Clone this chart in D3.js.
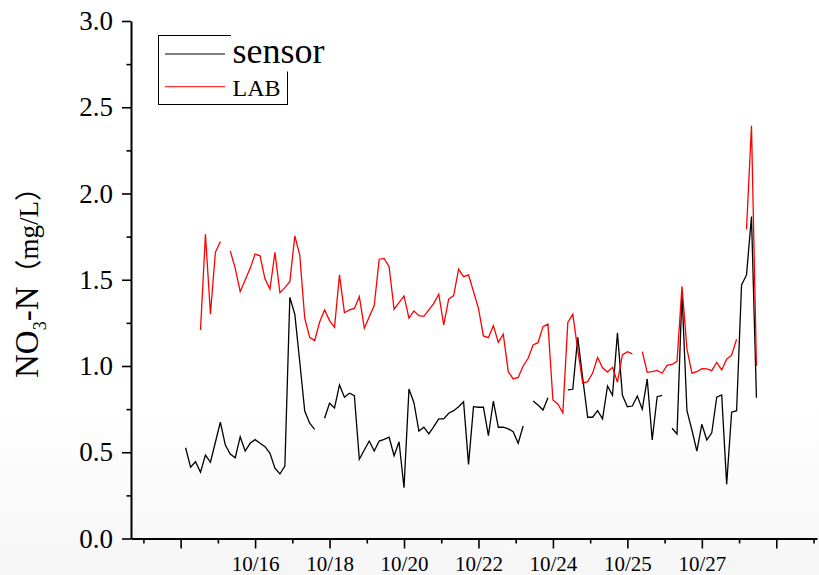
<!DOCTYPE html>
<html>
<head>
<meta charset="utf-8">
<script src="https://cdn.jsdelivr.net/npm/d3@7"></script>
<style>
  body { margin: 0; background: #fff; }
  svg { display: block; }
  text { font-family: "Liberation Serif", "Times New Roman", serif; fill: #000; }
</style>
</head>
<body>
<svg id="chart" width="819" height="575"></svg>
<script>
// Sample index of the first value in each series (one sample per x unit)
const sensorStart = 11;
const labStart = 14;

// NO3-N from the in-situ sensor (mg/L); null = no reading
const sensor = [
  0.526, 0.413, 0.445, 0.384, 0.484, 0.442, 0.558, 0.674, 0.542, 0.490,
  0.468, 0.590, 0.507, 0.552, 0.573, 0.552, 0.532, 0.494, 0.407, 0.374,
  0.420, 1.398, 1.300, 1.023, 0.739, 0.668, 0.633, null, 0.697, 0.784,
  0.757, 0.890, 0.819, 0.842, 0.828, 0.459, 0.513, 0.565, 0.507, 0.565,
  0.575, 0.587, 0.480, 0.561, 0.294, 0.867, 0.787, 0.623, 0.645, 0.606,
  0.648, 0.693, 0.693, 0.726, 0.741, 0.764, 0.793, 0.430, 0.764, 0.761,
  0.761, 0.596, 0.797, 0.645, 0.645, 0.635, 0.619, 0.552, 0.652, null,
  0.797, 0.774, 0.745, 0.816, null, null, null, 0.861, 0.865, 1.166,
  0.930, 0.703, 0.703, 0.741, 0.693, 0.884, 0.830, 1.193, 0.830, 0.764,
  0.768, 0.826, 0.749, 0.925, 0.571, 0.822, 0.830, null, 0.639, 0.606,
  1.421, 0.741, 0.629, 0.507, 0.662, 0.571, 0.613, 0.819, 0.832, 0.314,
  0.732, 0.741, 1.470, 1.528, 1.866, 0.816
];

// NO3-N from laboratory analysis (mg/L); null = no sample
const lab = [
  1.209, 1.763, 1.301, 1.659, 1.721, null, 1.667, 1.566, 1.431, 1.499,
  1.566, 1.649, 1.639, 1.504, 1.446, 1.659, 1.425, 1.454, 1.489, 1.754,
  1.643, 1.277, 1.166, 1.147, 1.255, 1.325, 1.263, 1.224, 1.528, 1.309,
  1.325, 1.334, 1.402, 1.219, 1.286, 1.350, 1.619, 1.624, 1.576, 1.329,
  1.367, 1.406, 1.277, 1.319, 1.292, 1.288, 1.325, 1.363, 1.416, 1.238,
  1.388, 1.408, 1.561, 1.518, 1.528, 1.431, 1.334, 1.174, 1.164, 1.234,
  1.137, 1.184, 0.967, 0.925, 0.934, 1.000, 1.045, 1.122, 1.135, 1.228,
  1.243, 0.803, 0.778, 0.729, 1.252, 1.300, 1.093, 0.901, 0.909, 0.959,
  1.049, 0.990, 0.965, 0.992, 0.906, 1.064, 1.083, 1.070, null, 1.083,
  0.963, 0.967, 0.974, 0.958, 1.004, 1.009, 1.027, 1.462, 1.099, 0.958,
  0.967, 0.984, 0.983, 0.973, 1.021, 0.977, 1.039, 1.063, 1.155, null,
  1.792, 2.393, 1.000
];

// Date axis: major ticks every 15 samples
const xMajorTicks = [10, 25, 40, 55, 70, 85, 100, 115, 130];
const xTickLabels = ["", "10/16", "10/18", "10/20", "10/22", "10/24", "10/25", "10/27", ""];
const xMinorTicks = [2.5, 17.5, 32.5, 47.5, 62.5, 77.5, 92.5, 107.5, 122.5, 137.5];
const yMajorTicks = [0, 0.5, 1.0, 1.5, 2.0, 2.5, 3.0];
const yMinorTicks = [0.25, 0.75, 1.25, 1.75, 2.25, 2.75];

const svg = d3.select("#chart");
const W = 819, H = 575;

// faint shading toward the bottom of the page
const defs = svg.append("defs");
const grad = defs.append("linearGradient").attr("id", "bg").attr("x1", 0).attr("y1", 0).attr("x2", 0).attr("y2", 1);
grad.append("stop").attr("offset", "0.7").attr("stop-color", "#ffffff");
grad.append("stop").attr("offset", "1").attr("stop-color", "#f6f6f6");
svg.append("rect").attr("width", W).attr("height", H).attr("fill", "url(#bg)");

const x = d3.scaleLinear().domain([0, 138.2]).range([131, 817]);
const y = d3.scaleLinear().domain([0, 3]).range([538.5, 21]);

const toPoints = (arr, start) => arr.map((v, i) => ({ i: start + i, v }));

const line = d3.line()
  .defined(d => d.v !== null)
  .x(d => x(d.i))
  .y(d => y(d.v));

// series
svg.append("path")
  .datum(toPoints(sensor, sensorStart))
  .attr("fill", "none")
  .attr("stroke", "#000")
  .attr("stroke-width", 1.3)
  .attr("d", line);

svg.append("path")
  .datum(toPoints(lab, labStart))
  .attr("fill", "none")
  .attr("stroke", "#ff0000")
  .attr("stroke-width", 1.3)
  .attr("d", line);

// y axis
const yAxis = svg.append("g").attr("transform", "translate(131,0)")
  .call(d3.axisLeft(y).tickValues(yMajorTicks).tickFormat(d3.format(".1f"))
    .tickSize(9).tickSizeOuter(0).tickPadding(9));
yAxis.select(".domain").attr("stroke-width", 2);
yAxis.selectAll(".tick line").attr("stroke-width", 1.6);
yAxis.selectAll(".tick text").attr("font-size", 27).attr("font-family", null);

const yMinor = svg.append("g").attr("transform", "translate(131,0)")
  .call(d3.axisLeft(y).tickValues(yMinorTicks).tickFormat("").tickSize(4.5).tickSizeOuter(0));
yMinor.select(".domain").remove();
yMinor.selectAll(".tick line").attr("stroke-width", 1.6);

// x axis
const xAxis = svg.append("g").attr("transform", "translate(0,538.5)")
  .call(d3.axisBottom(x).tickValues(xMajorTicks)
    .tickFormat((d, i) => xTickLabels[i])
    .tickSize(10).tickSizeOuter(0).tickPadding(7.5));
xAxis.select(".domain").attr("stroke-width", 2);
xAxis.selectAll(".tick line").attr("stroke-width", 1.6);
xAxis.selectAll(".tick text").attr("font-size", 21).attr("font-family", null);

const xMinor = svg.append("g").attr("transform", "translate(0,538.5)")
  .call(d3.axisBottom(x).tickValues(xMinorTicks).tickFormat("").tickSize(5).tickSizeOuter(0));
xMinor.select(".domain").remove();
xMinor.selectAll(".tick line").attr("stroke-width", 1.6);

// y axis title
const yTitle = svg.append("text")
  .attr("transform", "translate(38,276) rotate(-90)")
  .attr("text-anchor", "middle");
yTitle.append("tspan").attr("font-size", 33).text("NO");
yTitle.append("tspan").attr("font-size", 18).attr("dy", 8).text("3");
yTitle.append("tspan").attr("font-size", 33).attr("dy", -8).text("-N");
yTitle.append("tspan").attr("font-size", 27).attr("font-family", "'Noto Sans CJK SC', 'Liberation Serif', serif").text("（");
yTitle.append("tspan").attr("font-size", 27).text("mg/L");
yTitle.append("tspan").attr("font-size", 27).attr("font-family", "'Noto Sans CJK SC', 'Liberation Serif', serif").text("）");

// legend
const legend = svg.append("g");
legend.append("rect")
  .attr("x", 158.5).attr("y", 35.5).attr("width", 129).attr("height", 69)
  .attr("fill", "none").attr("stroke", "#000").attr("stroke-width", 1);
legend.append("rect")
  .attr("x", 231).attr("y", 33).attr("width", 100).attr("height", 38.5)
  .attr("fill", "#fff");
const legendItems = [
  { name: "sensor", color: "#000", size: 36, ly: 54, ty: 62.7 },
  { name: "LAB", color: "#ff0000", size: 24, ly: 86.7, ty: 95.7 }
];
legendItems.forEach(it => {
  legend.append("line")
    .attr("x1", 165).attr("x2", 225).attr("y1", it.ly).attr("y2", it.ly)
    .attr("stroke", it.color).attr("stroke-width", 1);
  legend.append("text")
    .attr("x", 232.5).attr("y", it.ty)
    .attr("font-size", it.size)
    .text(it.name);
});
</script>
</body>
</html>
